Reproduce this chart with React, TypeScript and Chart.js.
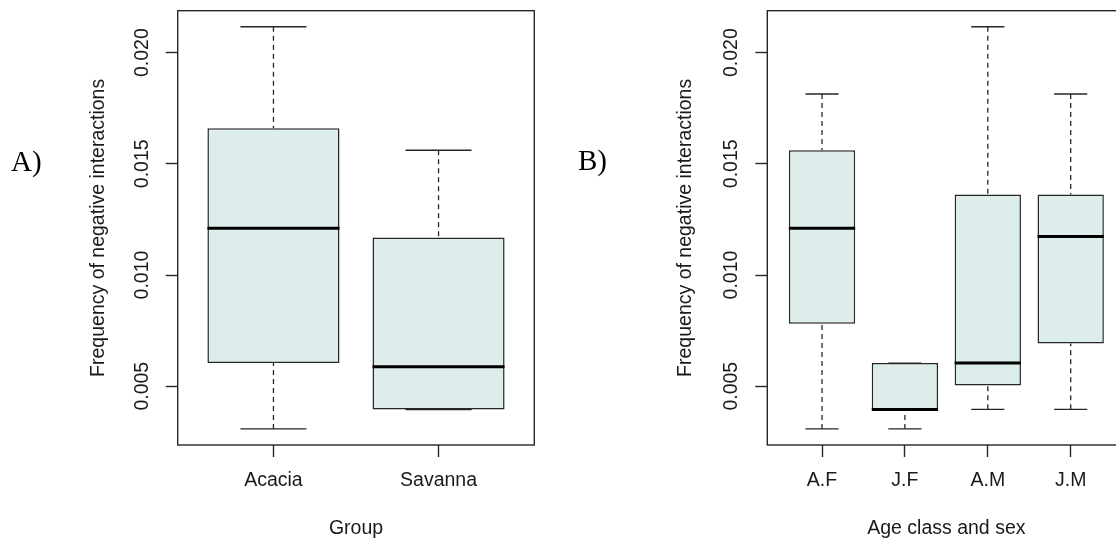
import React, { useEffect, useRef } from "react";
import { Chart, registerables } from "chart.js";

Chart.register(...registerables);

// ---- Data ----
const groupCategories = ["Acacia", "Savanna"];
const groupMin = [0.00308, 0.00395];
const groupQ1 = [0.00604, 0.00395];
const groupMedian = [0.0121, 0.00587];
const groupQ3 = [0.0166, 0.01169];
const groupMax = [0.02116, 0.01561];

const ageCategories = ["A.F", "J.F", "A.M", "J.M"];
const ageMin = [0.00308, 0.00308, 0.00396, 0.00396];
const ageQ1 = [0.00781, 0.00395, 0.00503, 0.00692];
const ageMedian = [0.0121, 0.00395, 0.00604, 0.01173];
const ageQ3 = [0.01561, 0.00604, 0.01362, 0.01362];
const ageMax = [0.01814, 0.00604, 0.02116, 0.01814];

const yTickValues = [0.005, 0.01, 0.015, 0.02];
const yTickLabels = ["0.005", "0.010", "0.015", "0.020"];

const yAxisTitle = "Frequency of negative interactions";
const groupAxisTitle = "Group";
const ageAxisTitle = "Age class and sex";

// ---- Styles ----
const FONT = "'Liberation Sans', Arial, Helvetica, sans-serif";
const SERIF = "'Liberation Serif', 'Times New Roman', serif";
const TEXT = "#1a1a1a";
const LINE = "#262626";
const FILL = "#dcedeb";

type Stats = {
  min: number[];
  q1: number[];
  median: number[];
  q3: number[];
  max: number[];
};

const boxPlugin = {
  id: "rbox",
  afterDatasetsDraw(chart: any, _args: any, opts: any) {
    const st: Stats = opts.stats;
    if (!st) return;
    const meta = chart.getDatasetMeta(0);
    const y = chart.scales.y;
    const ctx = chart.ctx;
    ctx.save();
    ctx.lineCap = "butt";
    meta.data.forEach((bar: any, i: number) => {
      const cx = bar.x;
      const half = bar.width / 2;
      const capHalf = half / 2;
      const pMin = y.getPixelForValue(st.min[i]);
      const pQ1 = y.getPixelForValue(st.q1[i]);
      const pMed = y.getPixelForValue(st.median[i]);
      const pQ3 = y.getPixelForValue(st.q3[i]);
      const pMax = y.getPixelForValue(st.max[i]);
      // whiskers (dashed)
      ctx.strokeStyle = LINE;
      ctx.lineWidth = 1.3;
      ctx.setLineDash([5, 4]);
      ctx.beginPath();
      ctx.moveTo(cx, pMax);
      ctx.lineTo(cx, pQ3);
      ctx.moveTo(cx, pMin);
      ctx.lineTo(cx, pQ1);
      ctx.stroke();
      ctx.setLineDash([]);
      // staples
      ctx.lineWidth = 1.4;
      ctx.beginPath();
      ctx.moveTo(cx - capHalf, pMax);
      ctx.lineTo(cx + capHalf, pMax);
      ctx.moveTo(cx - capHalf, pMin);
      ctx.lineTo(cx + capHalf, pMin);
      ctx.stroke();
      // median
      ctx.strokeStyle = "#000";
      ctx.lineWidth = 3;
      ctx.beginPath();
      ctx.moveTo(cx - half, pMed);
      ctx.lineTo(cx + half, pMed);
      ctx.stroke();
    });
    // plot frame
    const a = chart.chartArea;
    ctx.strokeStyle = LINE;
    ctx.lineWidth = 1.4;
    ctx.strokeRect(a.left, a.top, a.right - a.left, a.bottom - a.top);
    ctx.restore();
  },
};

type PanelProps = {
  categories: string[];
  stats: Stats;
  xTitle: string;
  left: number;
  width: number;
  yWidth: number;
  padRight: number;
  padTop: number;
  yTitlePad: number;
};

function BoxPanel(p: PanelProps) {
  const ref = useRef<HTMLCanvasElement | null>(null);
  useEffect(() => {
    if (!ref.current) return;
    const n = p.categories.length;
    const all = [...p.stats.min, ...p.stats.max];
    const lo = Math.min(...all);
    const hi = Math.max(...all);
    const yPad = (hi - lo) * 0.04;
    const xPad = n * 0.04;
    const font = { family: FONT, size: 19.5 };
    const chart = new Chart(ref.current, {
      type: "bar",
      data: {
        datasets: [
          {
            data: p.categories.map((_, i) => ({
              x: i + 1,
              y: [p.stats.q1[i], p.stats.q3[i]],
            })) as any,
            backgroundColor: FILL,
            borderColor: LINE,
            borderWidth: 1.5,
            borderSkipped: false,
            categoryPercentage: 0.8,
            barPercentage: 1,
          },
        ],
      },
      options: {
        animation: false,
        responsive: false,
        devicePixelRatio: 1,
        events: [],
        layout: {
          padding: { left: 0, right: p.padRight, top: p.padTop, bottom: 0 },
        },
        plugins: {
          legend: { display: false },
          tooltip: { enabled: false },
          rbox: { stats: p.stats },
        } as any,
        scales: {
          x: {
            type: "linear",
            min: 0.5 - xPad,
            max: n + 0.5 + xPad,
            bounds: "data",
            offset: false,
            afterFit: (s: any) => {
              s.height = 99;
            },
            afterBuildTicks: (s: any) => {
              s.ticks = p.categories.map((_, i) => ({ value: i + 1 }));
            },
            ticks: {
              autoSkip: false,
              maxRotation: 0,
              minRotation: 0,
              padding: 12,
              color: TEXT,
              font,
              callback: (_v: any, i: number) => p.categories[i],
            },
            grid: {
              offset: false,
              drawOnChartArea: false,
              drawTicks: true,
              tickLength: 12,
              tickColor: LINE,
              tickWidth: 1.4,
            },
            border: { display: false },
            title: {
              display: true,
              text: p.xTitle,
              color: TEXT,
              font,
              padding: { top: 0, bottom: 3.4 },
            },
          },
          y: {
            type: "linear",
            min: lo - yPad,
            max: hi + yPad,
            bounds: "data",
            beginAtZero: false,
            afterFit: (s: any) => {
              s.width = p.yWidth;
            },
            afterBuildTicks: (s: any) => {
              s.ticks = yTickValues.map((v) => ({ value: v }));
            },
            ticks: {
              minRotation: 90,
              maxRotation: 90,
              crossAlign: "center",
              padding: -1,
              color: TEXT,
              font,
              callback: (_v: any, i: number) => yTickLabels[i],
            },
            grid: {
              drawOnChartArea: false,
              drawTicks: true,
              tickLength: 12,
              tickColor: LINE,
              tickWidth: 1.4,
            },
            border: { display: false },
            title: {
              display: true,
              text: yAxisTitle,
              color: TEXT,
              font,
              padding: { top: p.yTitlePad, bottom: 0 },
            },
          },
        },
      } as any,
      plugins: [boxPlugin as any],
    });
    return () => chart.destroy();
  }, []);
  return (
    <canvas
      ref={ref}
      width={p.width}
      height={544}
      style={{
        position: "absolute",
        left: p.left,
        top: 0,
        width: p.width,
        height: 544,
        display: "block",
      }}
    />
  );
}

export default function App() {
  return (
    <div
      style={{
        position: "fixed",
        left: 0,
        top: 0,
        width: 1116,
        height: 544,
        overflow: "hidden",
        background: "#ffffff",
      }}
    >
      <BoxPanel
        categories={groupCategories}
        stats={{
          min: groupMin,
          q1: groupQ1,
          median: groupMedian,
          q3: groupQ3,
          max: groupMax,
        }}
        xTitle={groupAxisTitle}
        left={0}
        width={558}
        yWidth={177.7}
        padRight={23.7}
        padTop={9}
        yTitlePad={86.8}
      />
      <BoxPanel
        categories={ageCategories}
        stats={{
          min: ageMin,
          q1: ageQ1,
          median: ageMedian,
          q3: ageQ3,
          max: ageMax,
        }}
        xTitle={ageAxisTitle}
        left={558}
        width={582}
        yWidth={209.3}
        padRight={14.6}
        padTop={7}
        yTitlePad={116.3}
      />
      <div
        style={{
          position: "absolute",
          left: 11,
          top: 147,
          fontFamily: SERIF,
          fontSize: 29,
          lineHeight: "29px",
          color: "#000",
          whiteSpace: "nowrap",
        }}
      >
        A)
      </div>
      <div
        style={{
          position: "absolute",
          left: 578,
          top: 146,
          fontFamily: SERIF,
          fontSize: 29,
          lineHeight: "29px",
          color: "#000",
          whiteSpace: "nowrap",
        }}
      >
        B)
      </div>
    </div>
  );
}
